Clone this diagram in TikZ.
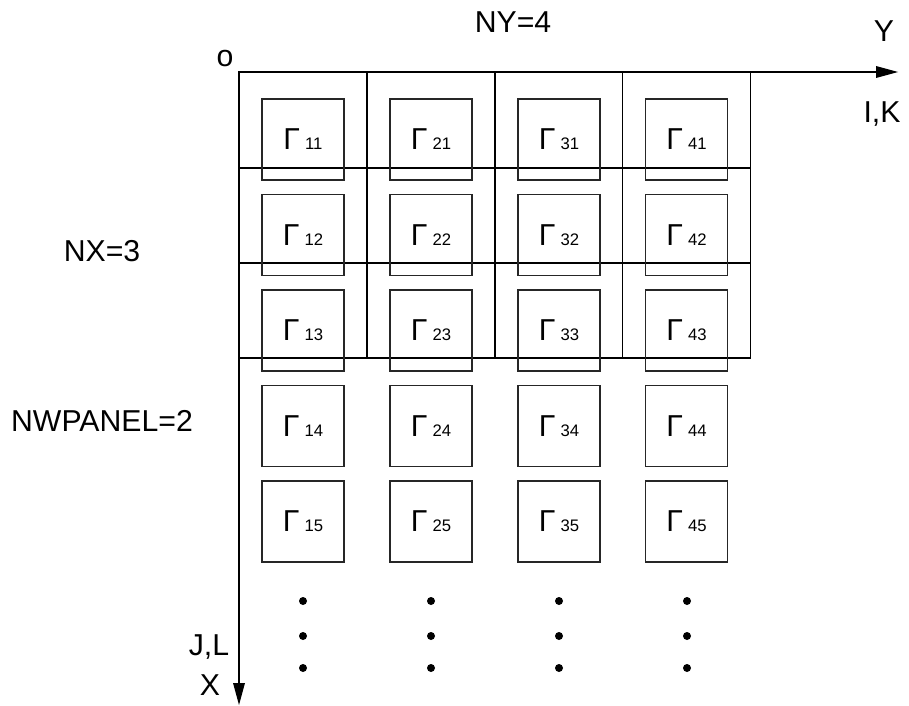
\documentclass[tikz,border=0pt]{standalone}
\usepackage{fontspec}
\setmainfont{Liberation Sans}
\newcommand{\panelsub}{\fontsize{9.5}{11}\selectfont}
\begin{document}
\begin{tikzpicture}[x=0.02cm,y=-0.02cm,font=\fontsize{17.2}{20}\selectfont]
\tikzstyle{every node}+=[inner sep=0pt]
\tikzstyle{panel}=[draw=black!85,line width=0.9pt,minimum width=1.64cm,minimum height=1.62cm]
\tikzstyle{gridline}=[black,line width=1.1pt]
\useasboundingbox (0,0) rectangle (909,706);

\draw (513,33) node[anchor=base] (ny) {NY=4};
\draw (225,67) node[anchor=base] (orig) {o};
\draw (884,42) node[anchor=base] (ylab) {Y};
\draw (882,122) node[anchor=base] (iklab) {I,K};
\draw (102,261) node[anchor=base] (nx) {NX=3};
\draw (102,431) node[anchor=base] (nwpanel) {NWPANEL=2};
\draw (209,655) node[anchor=base] (jllab) {J,L};
\draw (210,695) node[anchor=base] (xlab) {X};

\draw [gridline] (239,72) rectangle (750.5,358);
\draw [gridline] (367,72) -- (367,358);
\draw [gridline] (495,72) -- (495,358);
\draw [gridline] (622.5,72) -- (622.5,358);
\draw [gridline] (239,167.7) -- (750.5,167.7);
\draw [gridline] (239,262.8) -- (750.5,262.8);

\node [panel] (g11) at (303,139.3) {Γ\,{\panelsub 11}};
\node [panel] (g21) at (431,139.3) {Γ\,{\panelsub 21}};
\node [panel] (g31) at (559,139.3) {Γ\,{\panelsub 31}};
\node [panel] (g41) at (686.5,139.3) {Γ\,{\panelsub 41}};
\node [panel] (g12) at (303,234.8) {Γ\,{\panelsub 12}};
\node [panel] (g22) at (431,234.8) {Γ\,{\panelsub 22}};
\node [panel] (g32) at (559,234.8) {Γ\,{\panelsub 32}};
\node [panel] (g42) at (686.5,234.8) {Γ\,{\panelsub 42}};
\node [panel] (g13) at (303,330.3) {Γ\,{\panelsub 13}};
\node [panel] (g23) at (431,330.3) {Γ\,{\panelsub 23}};
\node [panel] (g33) at (559,330.3) {Γ\,{\panelsub 33}};
\node [panel] (g43) at (686.5,330.3) {Γ\,{\panelsub 43}};
\node [panel] (g14) at (303,425.8) {Γ\,{\panelsub 14}};
\node [panel] (g24) at (431,425.8) {Γ\,{\panelsub 24}};
\node [panel] (g34) at (559,425.8) {Γ\,{\panelsub 34}};
\node [panel] (g44) at (686.5,425.8) {Γ\,{\panelsub 44}};
\node [panel] (g15) at (303,521.3) {Γ\,{\panelsub 15}};
\node [panel] (g25) at (431,521.3) {Γ\,{\panelsub 25}};
\node [panel] (g35) at (559,521.3) {Γ\,{\panelsub 35}};
\node [panel] (g45) at (686.5,521.3) {Γ\,{\panelsub 45}};

\coordinate (o) at (239,72);
\coordinate (ytip) at (898,72);
\coordinate (xtip) at (239,705);
\draw [black,line width=1.1pt] (o) -- ([xshift=-0.3cm]ytip);
\fill [black] (ytip) -- ++(-22,-6) -- ++(0,12) -- cycle;
\draw [black,line width=1.1pt] (o) -- ([yshift=0.3cm]xtip);
\fill [black] (xtip) -- ++(-6,-22) -- ++(12,0) -- cycle;

\fill (303,601) circle (0.08cm);
\fill (303,636) circle (0.08cm);
\fill (303,668) circle (0.08cm);
\fill (431,601) circle (0.08cm);
\fill (431,636) circle (0.08cm);
\fill (431,668) circle (0.08cm);
\fill (559,601) circle (0.08cm);
\fill (559,636) circle (0.08cm);
\fill (559,668) circle (0.08cm);
\fill (687,601) circle (0.08cm);
\fill (687,636) circle (0.08cm);
\fill (687,668) circle (0.08cm);
\end{tikzpicture}
\end{document}
